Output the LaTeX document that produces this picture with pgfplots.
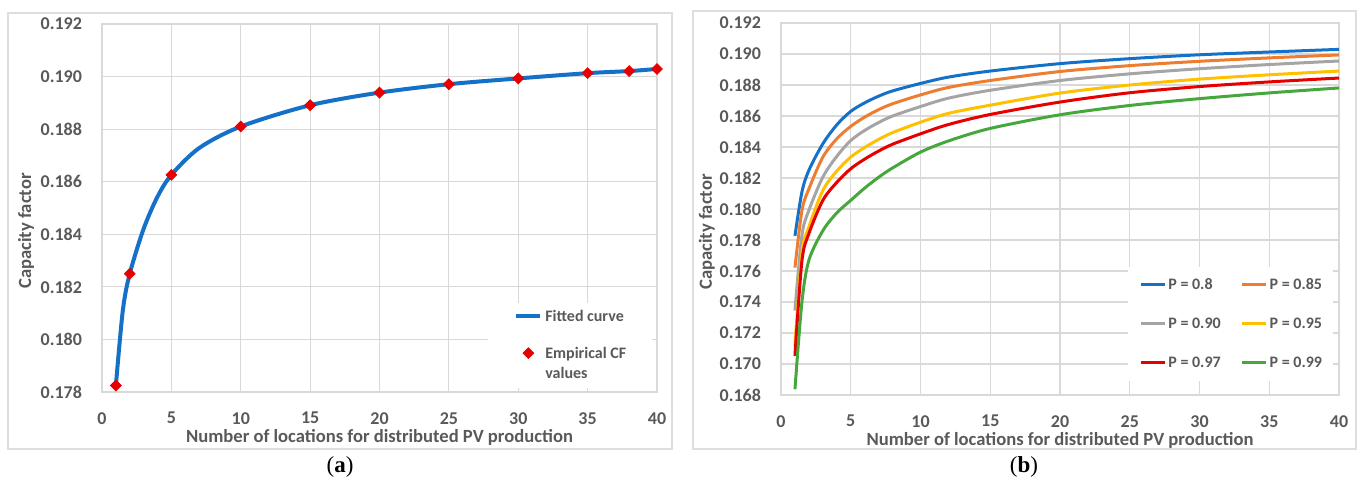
\documentclass[border=0pt]{standalone}
\usepackage{fontspec}
\setmainfont{Carlito}
\newfontfamily\capfont{Liberation Serif}
\usepackage{pgfplots}
\usepackage{pgfplotstable}
\pgfplotsset{compat=1.18}

\definecolor{txtgray}{RGB}{89,89,89}
\definecolor{gridgray}{RGB}{217,217,217}
\definecolor{framegray}{RGB}{222,222,222}
\definecolor{xlblue}{RGB}{21,112,200}
\definecolor{xlorange}{RGB}{237,125,49}
\definecolor{xlgray}{RGB}{165,165,165}
\definecolor{xlyellow}{RGB}{255,192,0}
\definecolor{xlred}{RGB}{230,0,0}
\definecolor{xlgreen}{RGB}{70,168,60}

% right panel: CF against number of locations, one column per P
\pgfplotstableread{
x   p80     p85     p90     p95     p97     p99
1   0.17827 0.17622 0.17345 0.17116 0.17053 0.16837
1.5 0.18110 0.17990 0.17830 0.17720 0.17665 0.17400
2   0.18250 0.18130 0.17992 0.17885 0.17842 0.17670
3   0.18421 0.18335 0.18206 0.18120 0.18056 0.17860
4   0.18543 0.18453 0.18340 0.18245 0.18172 0.17975
5   0.18630 0.18533 0.18442 0.18335 0.18260 0.18056
6   0.18685 0.18593 0.18507 0.18397 0.18322 0.18135
7   0.18728 0.18641 0.18558 0.18449 0.18374 0.18205
8   0.18762 0.18679 0.18600 0.18493 0.18418 0.18265
10  0.18810 0.18736 0.18661 0.18560 0.18485 0.18367
12  0.18851 0.18784 0.18715 0.18617 0.18545 0.18439
15  0.18890 0.18829 0.18766 0.18670 0.18610 0.18520
20  0.18938 0.18887 0.18829 0.18748 0.18690 0.18608
25  0.18970 0.18925 0.18872 0.18800 0.18750 0.18668
30  0.18995 0.18953 0.18905 0.18838 0.18790 0.18712
35  0.19013 0.18975 0.18932 0.18866 0.18820 0.18749
40  0.19030 0.18994 0.18955 0.18890 0.18845 0.18781
}\cfP

\pgfplotsset{
  cfaxis/.style={
    scale only axis,
    xmin=0, xmax=40, xtick={0,5,...,40},
    scaled y ticks=false,
    grid=major, grid style={gridgray, line width=0.6pt},
    axis line style={gridgray, line width=0.6pt},
    major tick length=0pt,
    tick label style={font=\fontsize{9}{10.8}\selectfont\bfseries, text=txtgray},
    yticklabel style={/pgf/number format/.cd, fixed, fixed zerofill, precision=3,
      assume math mode=true, /tikz/.cd, xshift=-6.5pt},
    xticklabel style={/pgf/number format/assume math mode=true, yshift=-6.6pt},
    label style={font=\fontsize{9.3}{11}\selectfont\bfseries, text=txtgray},
    xlabel={Number of locations for distributed PV production},
    ylabel={Capacity factor},
    legend cell align=left,
    legend style={draw=none, fill=white, anchor=north west,
      cells={anchor=base west},
      nodes={inner sep=0pt, text height=6pt, text depth=2pt,
        font=\fontsize{8}{9.6}\selectfont\bfseries, text=txtgray}},
  },
  lineimg/.style={legend image code/.code={
      \draw[##1] (0pt,2.6pt) -- (12pt,2.6pt);}},
  markimg/.style={legend image code/.code={
      \draw[##1] plot coordinates {(6pt,2.6pt)};}},
}

\begin{document}
\begin{tikzpicture}
\useasboundingbox (0,0) rectangle (681pt,-242pt);

% panel frames
\draw[framegray, line width=0.8pt] (4pt,-6.5pt) rectangle (336pt,-224.5pt);
\draw[framegray, line width=0.8pt] (346.5pt,-5.5pt) rectangle (678pt,-224.5pt);

% (a)
\begin{axis}[cfaxis,
  at={(51pt,-196pt)}, anchor=south west,
  width=277.5pt, height=184pt,
  ymin=0.178, ymax=0.192,
  ytick={0.178,0.180,0.182,0.184,0.186,0.188,0.190,0.192},
  xlabel style={at={(axis description cs:0.5,0)}, anchor=center, yshift=-22.5pt},
  ylabel style={at={(axis description cs:-0.137,0.4375)}, anchor=center},
  legend style={at={(0.6955,0.242)}, inner xsep=13pt, inner ysep=3pt,
    row sep=2pt, column sep=1.5pt},
]
\addplot[xlblue, line width=2pt, smooth, lineimg] coordinates {
  (1,0.17825)(1.5,0.18110)(2,0.18250)(3,0.18421)(4,0.18543)
  (5,0.18626)(7,0.18728)(10,0.18810)(15,0.18891)(20,0.18939)
  (25,0.18971)(30,0.18993)(35,0.19013)(38,0.19021)(40,0.19029)};
\addlegendentry[text depth=10.5pt]{Fitted curve}
\addplot[only marks, mark=square*, mark size=1.9pt, xlred,
  mark options={rotate=45}, markimg]
  coordinates {
  (1,0.17825)(2,0.18250)(5,0.18626)(10,0.18810)(15,0.18891)(20,0.18939)
  (25,0.18971)(30,0.18993)(35,0.19013)(38,0.19021)(40,0.19029)};
\addlegendentry{Empirical CF}
\addlegendimage{empty legend}
\addlegendentry{values}
\end{axis}

% (b)
\begin{axis}[cfaxis,
  at={(390.5pt,-197.5pt)}, anchor=south west,
  width=279pt, height=186pt,
  ymin=0.168, ymax=0.192,
  ytick={0.168,0.170,0.172,0.174,0.176,0.178,0.180,0.182,0.184,0.186,0.188,0.190,0.192},
  xlabel style={at={(axis description cs:0.5,0)}, anchor=center, yshift=-22.5pt},
  ylabel style={at={(axis description cs:-0.133,0.438)}, anchor=center},
  legend columns=2,
  legend style={at={(0.6219,0.344)}, inner xsep=5.5pt, inner ysep=5pt,
    row sep=11.5pt, column sep=1pt,
    /tikz/every even column/.append style={column sep=10pt}},
]
\addplot[xlblue, line width=1.5pt, smooth, lineimg] table[x=x, y=p80] {\cfP};
\addlegendentry{P = 0.8}
\addplot[xlorange, line width=1.5pt, smooth, lineimg] table[x=x, y=p85] {\cfP};
\addlegendentry{P = 0.85}
\addplot[xlgray, line width=1.5pt, smooth, lineimg] table[x=x, y=p90] {\cfP};
\addlegendentry{P = 0.90}
\addplot[xlyellow, line width=1.5pt, smooth, lineimg] table[x=x, y=p95] {\cfP};
\addlegendentry{P = 0.95}
\addplot[xlred, line width=1.5pt, smooth, lineimg] table[x=x, y=p97] {\cfP};
\addlegendentry{P = 0.97}
\addplot[xlgreen, line width=1.5pt, smooth, lineimg] table[x=x, y=p99] {\cfP};
\addlegendentry{P = 0.99}
\end{axis}

% captions
\node[font=\capfont\fontsize{11.5}{13}\selectfont] at (170pt,-233.5pt) {(\textbf{a})};
\node[font=\capfont\fontsize{11.5}{13}\selectfont] at (512pt,-233.5pt) {(\textbf{b})};
\end{tikzpicture}
\end{document}
